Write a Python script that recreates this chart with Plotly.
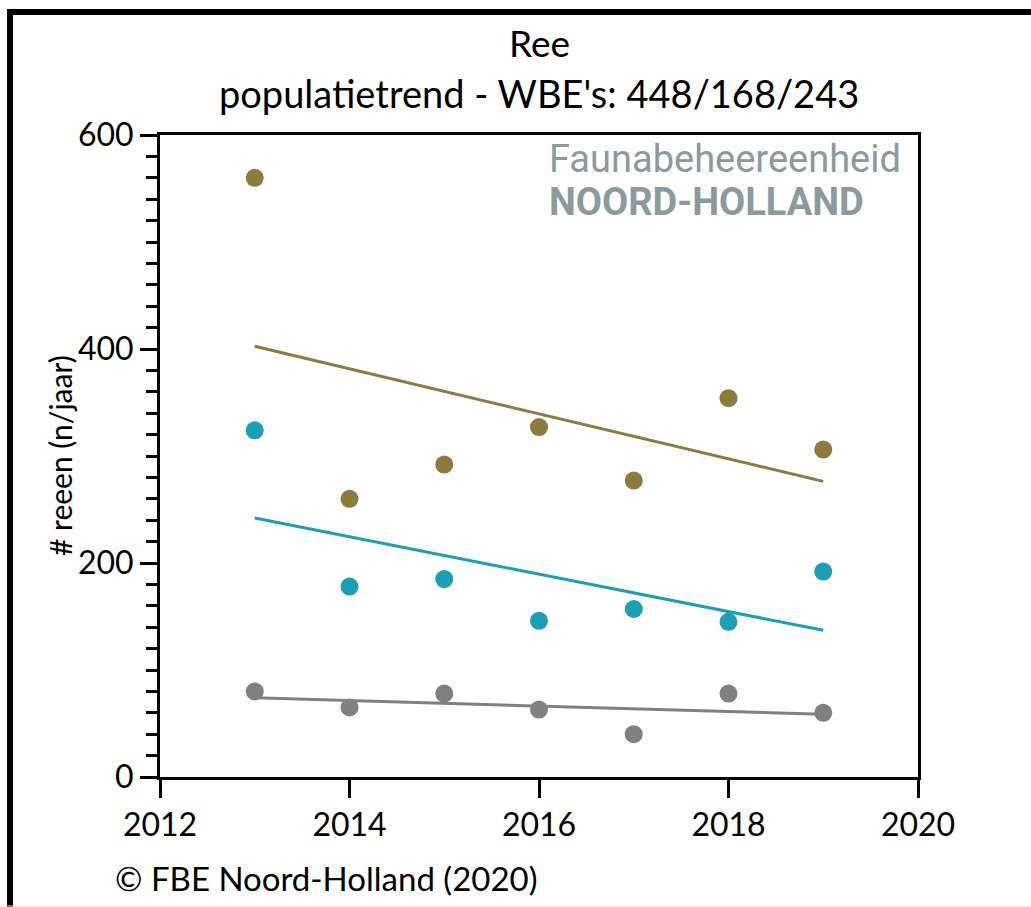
import numpy as np
import plotly.graph_objects as go

years = [2013, 2014, 2015, 2016, 2017, 2018, 2019]
wbe_448 = [560, 260, 292, 327, 277, 354, 306]
wbe_168 = [324, 178, 185, 146, 157, 145, 192]
wbe_243 = [80, 65, 78, 63, 40, 78, 60]

series = [
    (wbe_448, "#8C7B3C"),
    (wbe_168, "#1A9FB5"),
    (wbe_243, "#808080"),
]

FONT = "Lato"
L, R, T, B = 160, 918, 135, 777
W, H = 1031, 907


def px(x):
    return (x - L) / (R - L)


def py(y):
    return (B - y) / (B - T)


fig = go.Figure()
for vals, col in series:
    x = np.array(years, dtype=float)
    k, c = np.polyfit(x, np.array(vals, dtype=float), 1)
    xs = [years[0], years[-1]]
    fig.add_trace(go.Scatter(x=xs, y=[k * v + c for v in xs], mode="lines",
                             line=dict(color=col, width=3), showlegend=False,
                             hoverinfo="skip"))
    fig.add_trace(go.Scatter(x=years, y=vals, mode="markers",
                             marker=dict(color=col, size=18, line=dict(width=0)),
                             showlegend=False))

fig.update_layout(
    width=W, height=H,
    margin=dict(l=L, r=W - R, t=T, b=H - B, pad=0),
    paper_bgcolor="white", plot_bgcolor="white",
    font=dict(family=FONT, color="black", size=32),
    xaxis=dict(range=[2012, 2020], tickvals=[2012, 2014, 2016, 2018, 2020],
               showline=True, linecolor="black", linewidth=3, mirror=True,
               ticks="outside", ticklen=18, tickwidth=3, tickcolor="black",
               showgrid=False, zeroline=False, tickfont=dict(size=32)),
    yaxis=dict(range=[0, 600], tickvals=[0, 200, 400, 600],
               showline=True, linecolor="black", linewidth=3, mirror=True,
               ticks="outside", ticklen=17, tickwidth=3, tickcolor="black",
               minor=dict(dtick=20, ticks="outside", ticklen=11, tickwidth=3,
                          tickcolor="black", showgrid=False),
               showgrid=False, zeroline=False, tickfont=dict(size=32)),
)

ann = [
    dict(text="Ree", x=0.5, y=py(42), size=37, xanchor="center", family=FONT, color="black"),
    dict(text="populatietrend - WBE's: 448/168/243", x=0.5, y=py(93), size=38,
         xanchor="center", family=FONT, color="black"),
    dict(text="© FBE Noord-Holland (2020)", x=px(113), y=py(878), size=33,
         xanchor="left", family=FONT, color="black"),
    dict(text="Faunabeheereenheid", x=px(547), y=py(159), size=38,
         xanchor="left", family="Roboto", color="#8A9BA0"),
    dict(text="<b>NOORD-HOLLAND</b>", x=px(547), y=py(202), size=38,
         xanchor="left", family="Roboto", color="#8A9BA0"),
]
for a in ann:
    font = dict(size=a["size"], family=a["family"], color=a["color"])
    fig.add_annotation(text=a["text"], x=a["x"], y=a["y"], xref="paper", yref="paper",
                       xanchor=a["xanchor"], yanchor="middle", showarrow=False, font=font)

fig.add_annotation(text="# reeen (n/jaar)", x=px(60), y=py(456), xref="paper", yref="paper",
                   textangle=-90, xanchor="center", yanchor="middle", showarrow=False,
                   font=dict(size=30, family=FONT, color="black"))

# outer frame (left and top thick black, bottom faint)
fig.add_shape(type="line", xref="paper", yref="paper", x0=px(10), x1=px(10),
              y0=py(12), y1=py(907), line=dict(color="black", width=6))
fig.add_shape(type="line", xref="paper", yref="paper", x0=px(7), x1=px(1031),
              y0=py(12), y1=py(12), line=dict(color="black", width=6))
fig.add_shape(type="line", xref="paper", yref="paper", x0=px(0), x1=px(1031),
              y0=py(906), y1=py(906), line=dict(color="#E8E8E8", width=1))

fig.write_html("out.html", config={"displayModeBar": False},
               post_script="document.body.style.margin='0';")
